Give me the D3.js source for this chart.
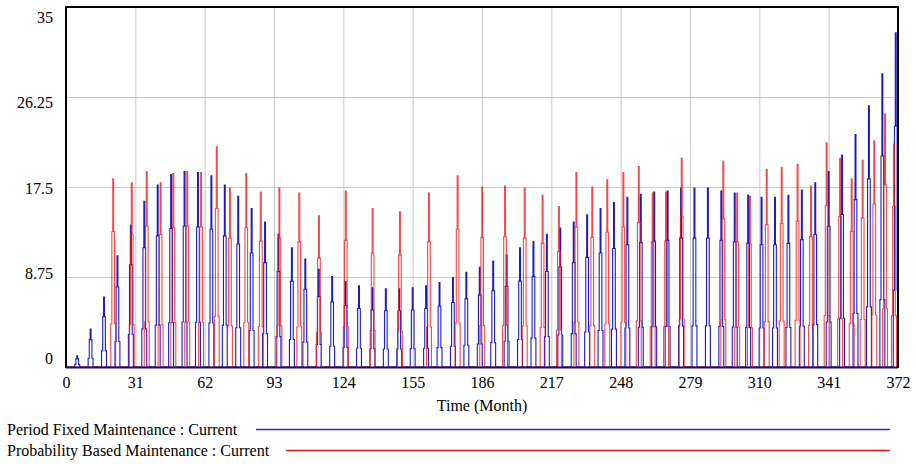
<!DOCTYPE html>
<html>
<head>
<meta charset="utf-8">
<script src="https://cdn.jsdelivr.net/npm/d3@7"></script>
<style>
  html, body { margin: 0; padding: 0; background: #fff; }
  svg { display: block; }
  text { font-family: "Liberation Serif", "Times New Roman", serif; font-size: 16px; fill: #000; }
</style>
</head>
<body>
<svg id="chart" width="916" height="464"></svg>
<script>
// ---- data ----
const xTicks = [0, 31, 62, 93, 124, 155, 186, 217, 248, 279, 310, 341, 372];
const yTicks = [0, 8.75, 17.5, 26.25, 35];
const yTickLabels = ["0", "8.75", "17.5", "26.25", "35"];
const xTitle = "Time (Month)";
const seriesNames = ["Period Fixed Maintenance : Current", "Probability Based Maintenance : Current"];

// Period Fixed Maintenance: spike times (month) and peak values
const fixedTimes = [5, 11, 17, 23, 29, 35, 41, 47, 53, 59, 65, 71, 77, 83, 89, 95, 101, 107, 113, 119,
  125, 131, 137, 143, 149, 155, 161, 167, 173, 179, 185, 191, 197, 203, 209, 215, 221, 227, 233, 239,
  245, 251, 257, 263, 269, 275, 281, 287, 293, 299, 305, 311, 317, 323, 329, 335, 341, 347, 353, 359, 365, 371];
const fixedPeaks = [1.1, 3.7, 6.8, 10.8, 13.8, 16.1, 17.7, 18.7, 19.0, 18.9, 18.6, 17.7, 16.6, 15.4, 14.1, 12.9, 11.6, 10.5, 9.5, 8.8,
  8.3, 7.9, 7.7, 7.6, 7.6, 7.7, 7.9, 8.2, 8.7, 9.2, 9.7, 10.3, 10.9, 11.6, 12.2, 12.9, 13.5, 14.1, 14.8, 15.4,
  16.0, 16.5, 16.8, 17.0, 17.1, 17.4, 17.4, 17.4, 17.1, 16.9, 16.7, 16.5, 16.5, 16.7, 17.2, 17.9, 19.0, 20.6, 22.6, 25.4, 28.5, 32.5];

// Probability Based Maintenance: spike times (month) and peak values
const probTimes = [21.1, 29.4, 36.1, 42.3, 48.0, 54.2, 60.4, 67.4, 73.3, 80.6, 87.1, 95.4, 104.3, 113.1, 125.1, 137.1,
  149.3, 162.3, 175.1, 186.1, 196.3, 205.1, 213.1, 220.4, 228.2, 235.3, 242.0, 249.2, 256.1, 262.3, 268.3, 275.3,
  293.9, 300.1, 305.8, 313.3, 320.0, 327.1, 333.1, 340.1, 346.1, 351.3, 356.2, 361.4, 366.2, 370.2];
const probPeaks = [18.3, 17.9, 19.0, 17.9, 18.8, 19.0, 18.9, 21.4, 17.4, 18.8, 17.0, 17.4, 16.9, 14.7, 17.1, 15.4,
  15.1, 16.9, 18.6, 17.5, 17.6, 17.4, 16.7, 15.6, 18.9, 17.5, 18.2, 18.9, 19.5, 16.9, 17.0, 20.3,
  20.0, 16.9, 16.6, 19.2, 19.4, 19.7, 17.6, 21.8, 20.3, 18.3, 20.1, 22.0, 24.6, 21.7];

// shape of one maintenance pulse (month offsets and fraction of the peak)
const pulseOffsets = [-1.1, -0.6, -0.2, 0.2, 0.6, 1.1];
const pulseLevels = [0.23, 0.72, 1, 0.72, 0.23, 0];

// ---- drawing ----
const W = 916, H = 464;
const svg = d3.select("#chart");
svg.append("rect").attr("width", W).attr("height", H).attr("fill", "#fff");

const x = d3.scaleLinear().domain([0, 372]).range([66, 898]);
const y = d3.scaleLinear().domain([0, 35]).range([367, 7]);
const yLabel = d3.scaleLinear().domain([0, 35]).range([364, 23]);

// grid
const grid = svg.append("g");
grid.selectAll("line.v").data(xTicks.slice(1, -1)).enter().append("line")
  .attr("x1", d => x(d) + 0.5).attr("x2", d => x(d) + 0.5)
  .attr("y1", y(35)).attr("y2", y(0))
  .attr("stroke", "#c8c8c8").attr("stroke-width", 1);
grid.selectAll("line.h").data(yTicks.slice(1, -1)).enter().append("line")
  .attr("x1", x(0)).attr("x2", x(372))
  .attr("y1", d => Math.round(y(d)) + 0.5).attr("y2", d => Math.round(y(d)) + 0.5)
  .attr("stroke", "#c8c8c8").attr("stroke-width", 1);

// series paths
function buildPoints(times, peaks) {
  const pts = [[0, 0]];
  times.forEach((t, i) => {
    pulseOffsets.forEach((o, j) => pts.push([t + o, peaks[i] * pulseLevels[j]]));
  });
  pts.push([372, 0]);
  return pts;
}
const line = d3.line().x(d => x(d[0])).y(d => y(d[1])).curve(d3.curveStepAfter);

svg.append("path").datum(buildPoints(fixedTimes, fixedPeaks))
  .attr("d", line).attr("fill", "none").attr("stroke", "#1c1cc4").attr("stroke-width", 1.1);
svg.append("path").datum(buildPoints(probTimes, probPeaks))
  .attr("d", line).attr("fill", "none").attr("stroke", "#f01c1c").attr("stroke-width", 1.1).attr("opacity", 0.8);

// frame
svg.append("line").attr("x1", x(0)).attr("x2", x(372)).attr("y1", 7).attr("y2", 7)
  .attr("stroke", "#000").attr("stroke-width", 2);
svg.append("line").attr("x1", x(0)).attr("x2", x(0)).attr("y1", 6).attr("y2", 368)
  .attr("stroke", "#000").attr("stroke-width", 2);
svg.append("line").attr("x1", x(372)).attr("x2", x(372)).attr("y1", 6).attr("y2", 368)
  .attr("stroke", "#000").attr("stroke-width", 2);
svg.append("line").attr("x1", x(0)).attr("x2", x(372)).attr("y1", 367.5).attr("y2", 367.5)
  .attr("stroke", "#10106a").attr("stroke-width", 2);

// x tick labels
const xAxis = d3.axisBottom(x).tickValues(xTicks).tickSize(0).tickPadding(0).tickFormat(d3.format("d"));
const gx = svg.append("g").attr("transform", "translate(0,375)").call(xAxis);
gx.select(".domain").remove();
gx.selectAll("text").attr("dy", "0.8em").style("font-family", "Liberation Serif").style("font-size", "16px");

// y tick labels
svg.append("g").selectAll("text").data(yTicks).enter().append("text")
  .attr("x", 53).attr("y", d => yLabel(d)).attr("text-anchor", "end")
  .text((d, i) => yTickLabels[i]);

// axis title
svg.append("text").attr("x", 482).attr("y", 411).attr("text-anchor", "middle").text(xTitle);

// legend
const legendColors = ["#2a2ad0", "#e01a1a"];
const legendY = [435, 456];
const legendLineStart = [256, 286];
seriesNames.forEach((name, i) => {
  svg.append("text").attr("x", 7).attr("y", legendY[i]).text(name);
  svg.append("line").attr("x1", legendLineStart[i]).attr("x2", 890)
    .attr("y1", legendY[i] - 5.5).attr("y2", legendY[i] - 5.5)
    .attr("stroke", legendColors[i]).attr("stroke-width", 1.5);
});
</script>
</body>
</html>
